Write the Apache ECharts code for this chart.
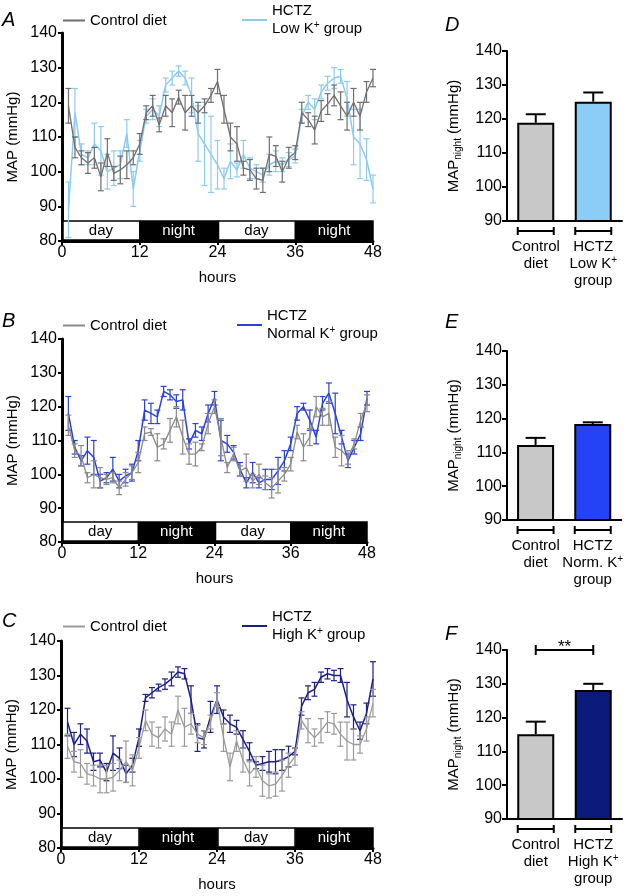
<!DOCTYPE html>
<html>
<head>
<meta charset="utf-8">
<script src="https://cdn.jsdelivr.net/npm/echarts@6/dist/echarts.min.js"></script>
<style>
  html, body { margin: 0; padding: 0; background: #fff; }
  #chart { width: 626px; height: 896px; }
</style>
</head>
<body>
<div id="chart"></div>
<script>
// hours of recording
const HOURS = [1,2,3,4,5,6,7,8,9,10,11,12,13,14,15,16,17,18,19,20,21,22,23,24,
  25,26,27,28,29,30,31,32,33,34,35,36,37,38,39,40,41,42,43,44,45,46,47,48]
const PERIODS = ['day', 'night', 'day', 'night']
const PERIOD_EDGES = [0, 12, 24, 36, 48]
const HOUR_TICKS = [0, 12, 24, 36, 48]

// panel A
const CTL_A = [119,107,104,102.5,104,98.5,105.5,99.5,100.5,102,104,108,
  117,119,113.5,119,117,121.5,117,119,117,119,122,126,
  118,110,108,101,100.5,98,97.5,105,104.5,100,104,105.5,
  117,115,112,117.5,119.5,122,119,116,120,116,123,127]
const SEM_CTL_A = [5,3,2,3,3,4,4,2,4,4,2,3, 2,3,2,3,4,2,5,3,3,2,2,3.5,
  4,4,5,2,3,3,3.5,5,3,3,3,2, 3,2,4,3,3,3,4,4,4,4,3,2.5]
const LOW_K = [89,117,105,104,108,106,100,101,102,111,95,106,
  116,118,116,125,127,129,127,122,111,108,105,102,
  98,103,100.5,105,101,100,99,102,103,102,103.5,104.5,
  116,120,118,123,125.5,127,127.5,121,110,108,103.5,95]
const SEM_LOW_K = [8,7,3,2,6,7,5,5,4,4,5,3, 2,3,3,2,2,1.5,2,5,8,12,11,7,
  3,5,2,4,3,2,2,3,3,2,2,2, 2,2,3,2,2,3,2,5,8,10,6,4]

// panel B
const CTL_B = [114.5,107,105.5,99,100,99,98.5,99,96,98.5,100.5,103.5,
  112,112.5,108,109,113,117,111,106,106,108,115,120,
  111,102,106,101,102,98,100,97.5,96,98,100,103,
  112.5,108,111,120,117,118,108,107,105,109,116,121]
const SEM_CTL_B = [3,2,3,1.5,4,3,1.5,1.5,2,2,2,3, 2,1,4,1.5,3.5,3,5,3,3.5,1,3,2,
  5.5,1.5,2,1.5,4,2,3,2,3,3.5,2,2, 2,4,2.5,3,2.5,3.5,3,4.5,2,1.5,2,2.5]
const NORM_K = [118,108,104,107,105,98,99,101.5,98,99.5,100.5,107,
  119,118,117,124.5,123.5,121.5,122,109,113,112,118,122.5,
  110,109,106.5,101.5,97.5,100.5,97.5,98.5,98.5,101,104,109,
  118,120,116,111,121,124,118,111,104,108,112,122.5]
const SEM_NORM_K = [5,2,1.5,4,5,2,1.5,3.5,2,2,2.5,3, 3,3,2,1.5,1.5,2,3,1.5,2,2,2.5,2,
  6,2.5,2,2,1.5,3,1.5,3,3,4,3,2, 2,1,3,2,2,3,6,2,2,2,2,2]

// panel C
const CTL_C = [109.5,105,104.5,101.5,101,100,100,100.5,102.5,105,102.5,109,
  117,113,112,114.5,113,120,115,116,113,112,116.5,123,
  112,103.5,111,105.5,101.5,103.5,99.5,98,98.5,101,104,106.5,
  117,114,112,114,116.5,116,113,111,110,110,114.5,122]
const SEM_CTL_C = [3.5,3,4,3,3,4,4,4,3,6,4.5,3, 3,3.5,3,3.5,3.5,4,5.5,3,2.5,2,2,2,
  4,4,3,3.5,3.5,3,4.5,3.5,3.5,4.5,3.5,2.5, 2.5,3.5,2.5,3.5,3,3,3.5,5.5,4.5,2.5,3.5,4]
const HIGH_K = [116.5,110,113,111,105,105.5,102,107.5,106,101.5,104,112,
  123.5,125,126.5,127.5,129,131,130.5,123,112,111.5,118,123,
  118,116,115,111.5,108,104,104.5,105,105,105.5,106.5,108,
  121,125,126,129.5,130.5,130,130,123,118,114,119,129]
const SEM_HIGH_K = [4,3.5,3,3.5,2.5,2,2.5,5,3,2.5,2,2.5, 1,1.5,1,1.5,2,1.5,1.5,4,4,2.5,4.5,4,
  2,2.5,2,2.5,2.5,1,2,3,3.5,3,3,1, 2.5,2,2,1.5,1.5,1.5,2,5,3.5,2.5,3,5]

// bar panels D, E, F (MAP night)
const CATS_D = ['Control\ndiet', 'HCTZ\nLow K+\ngroup']
const CATS_E = ['Control\ndiet', 'HCTZ\nNorm. K+\ngroup']
const CATS_F = ['Control\ndiet', 'HCTZ\nHigh K+\ngroup']
const BAR_D = [118.9, 125.1]
const SEM_BAR_D = [2.5, 2.7]
const BAR_E = [112.2, 118.4]
const SEM_BAR_E = [2.1, 0.5]
const BAR_F = [115.1, 128.2]
const SEM_BAR_F = [3.7, 1.8]
const SIG_F = [[0, 1, 140, '**']]

const FONT = "'Liberation Sans', Arial, Helvetica, sans-serif"
const chart = echarts.init(document.getElementById('chart'))

function errLines(a, b, c, color, w) {
  const st = { stroke: color, lineWidth: w }
  return [
    { type: 'line', shape: { x1: a[0], y1: a[1], x2: b[0], y2: b[1] }, style: st },
    { type: 'line', shape: { x1: a[0] - c, y1: a[1], x2: a[0] + c, y2: a[1] }, style: st },
    { type: 'line', shape: { x1: b[0] - c, y1: b[1], x2: b[0] + c, y2: b[1] }, style: st }
  ]
}

function errSeries(idx, means, sems, color, z) {
  return {
    type: 'custom', xAxisIndex: idx, yAxisIndex: idx, z: z, silent: true,
    data: HOURS.map((h, i) => [h, means[i] - sems[i], means[i] + sems[i]]),
    renderItem: (p, api) => {
      const a = api.coord([api.value(0), api.value(1)])
      const b = api.coord([api.value(0), api.value(2)])
      return { type: 'group', children: errLines(a, b, 3, color, 1.2) }
    }
  }
}

function lineSeries(idx, name, vals, color, w, z) {
  return {
    type: 'line', name: name, xAxisIndex: idx, yAxisIndex: idx, z: z,
    data: HOURS.map((h, i) => [h, vals[i]]),
    symbol: 'none', color: color,
    itemStyle: { color: color },
    lineStyle: { color: color, width: w },
    animation: false
  }
}

function bandSeries(idx) {
  return {
    type: 'custom', xAxisIndex: idx, yAxisIndex: idx, z: 1, silent: true,
    data: PERIODS.map((p, i) => [PERIOD_EDGES[i], PERIOD_EDGES[i + 1]]),
    renderItem: (p, api) => {
      const s = api.coord([api.value(0), 80])
      const e = api.coord([api.value(1), 80])
      const isDay = PERIODS[p.dataIndex] === 'day'
      const h = 19
      return {
        type: 'group',
        children: [
          { type: 'rect', shape: { x: s[0] + 1, y: s[1] - h - 1, width: e[0] - s[0] - 1, height: h },
            style: { fill: isDay ? '#fff' : '#000', stroke: '#000', lineWidth: 1.5 } },
          { type: 'text', x: (s[0] + e[0]) / 2, y: s[1] - h / 2 - 1,
            style: { text: PERIODS[p.dataIndex], fill: isDay ? '#000' : '#fff', font: '15px ' + FONT,
              align: 'center', verticalAlign: 'middle' } }
        ]
      }
    }
  }
}

const lineGrids = [
  { left: 62, top: 33, width: 311, height: 208 },
  { left: 62, top: 339, width: 305, height: 203 },
  { left: 61, top: 641, width: 312, height: 207 }
]
const barGrids = [
  { left: 507, top: 51, width: 115, height: 170 },
  { left: 507, top: 351, width: 115, height: 169 },
  { left: 507, top: 650, width: 115, height: 169 }
]

const linePanels = [
  { ctl: CTL_A, semCtl: SEM_CTL_A, hctz: LOW_K, semHctz: SEM_LOW_K, ctlColor: '#6f6f6f', hctzColor: '#8ecbef',
    hctzLabel: 'HCTZ\nLow K{sup|+} group', legendTop: 13, hctzLeft: 242, hctzTop: 2 },
  { ctl: CTL_B, semCtl: SEM_CTL_B, hctz: NORM_K, semHctz: SEM_NORM_K, ctlColor: '#8a8a8a', hctzColor: '#2a40e0',
    hctzLabel: 'HCTZ\nNormal K{sup|+} group', legendTop: 318, hctzLeft: 237, hctzTop: 307 },
  { ctl: CTL_C, semCtl: SEM_CTL_C, hctz: HIGH_K, semHctz: SEM_HIGH_K, ctlColor: '#9a9a9a', hctzColor: '#1c1f84',
    hctzLabel: 'HCTZ\nHigh K{sup|+} group', legendTop: 619, hctzLeft: 242, hctzTop: 608 }
]

const barPanels = [
  { cats: CATS_D, vals: BAR_D, sems: SEM_BAR_D, colors: ['#c8c8c8', '#8ccdf7'] },
  { cats: CATS_E, vals: BAR_E, sems: SEM_BAR_E, colors: ['#c8c8c8', '#2443f6'] },
  { cats: CATS_F, vals: BAR_F, sems: SEM_BAR_F, colors: ['#c8c8c8', '#0c1a7c'] }
]

const grid = [], xAxis = [], yAxis = [], series = [], legend = []
const sup = { sup: { fontSize: 10, verticalAlign: 'top', fontFamily: FONT, color: '#000' } }

linePanels.forEach((pn, i) => {
  grid.push(lineGrids[i])
  xAxis.push({
    gridIndex: i, type: 'value', min: 0, max: 48, interval: 12,
    axisLine: { onZero: false, lineStyle: { color: '#000', width: 3 } },
    axisTick: { show: true, length: 4, lineStyle: { color: '#000', width: 2 } },
    axisLabel: { fontSize: 16, color: '#000', fontFamily: FONT, margin: 4,
      customValues: HOUR_TICKS },
    splitLine: { show: false },
    name: 'hours', nameLocation: 'middle', nameGap: 29,
    nameTextStyle: { fontSize: 15, color: '#000', fontFamily: FONT }
  })
  yAxis.push({
    gridIndex: i, type: 'value', min: 80, max: 140, interval: 10,
    axisLine: { show: true, onZero: false, lineStyle: { color: '#000', width: 3 } },
    axisTick: { show: true, length: 4, lineStyle: { color: '#000', width: 2 } },
    axisLabel: { fontSize: 16, color: '#000', fontFamily: FONT, margin: 5 },
    splitLine: { show: false },
    name: 'MAP (mmHg)', nameLocation: 'middle', nameGap: 42,
    nameTextStyle: { fontSize: 15, color: '#000', fontFamily: FONT }
  })
  const cName = 'Control diet ' + i, hName = 'HCTZ ' + i
  series.push(bandSeries(i))
  series.push(errSeries(i, pn.hctz, pn.semHctz, pn.hctzColor, 3))
  series.push(lineSeries(i, hName, pn.hctz, pn.hctzColor, 1.5, 4))
  series.push(errSeries(i, pn.ctl, pn.semCtl, pn.ctlColor, 5))
  series.push(lineSeries(i, cName, pn.ctl, pn.ctlColor, 1.3, 6))
  legend.push({
    data: [cName], left: 63, top: pn.legendTop, padding: 0, icon: 'rect', itemWidth: 22, itemHeight: 2,
    selectedMode: false, formatter: () => 'Control diet',
    textStyle: { fontSize: 15, color: '#000', fontFamily: FONT }
  })
  legend.push({
    data: [hName], left: pn.hctzLeft, top: pn.hctzTop, padding: 0, icon: 'rect', itemWidth: 25, itemHeight: 2,
    selectedMode: false, formatter: () => pn.hctzLabel,
    textStyle: { fontSize: 15, color: '#000', fontFamily: FONT, lineHeight: 18, rich: sup }
  })
})

barPanels.forEach((pn, j) => {
  const i = j + 3
  grid.push(barGrids[j])
  xAxis.push({
    gridIndex: i, type: 'category', data: pn.cats,
    axisLine: { lineStyle: { color: '#000', width: 2 } },
    axisTick: { show: false },
    axisLabel: { interval: 0, fontSize: 15, lineHeight: 17, color: '#000', fontFamily: FONT, margin: 17,
      formatter: v => v.replace('K+', 'K{sup|+}'), rich: sup }
  })
  yAxis.push({
    gridIndex: i, type: 'value', min: 90, max: 140, interval: 10,
    axisLine: { show: true, lineStyle: { color: '#000', width: 2 } },
    axisTick: { show: true, length: 5, lineStyle: { color: '#000', width: 2 } },
    axisLabel: { fontSize: 16, color: '#000', fontFamily: FONT, margin: 5 },
    splitLine: { show: false },
    name: 'MAP{sub|night} (mmHg)', nameLocation: 'middle', nameGap: 44,
    nameTextStyle: { fontSize: 15, color: '#000', fontFamily: FONT, lineHeight: 18,
      rich: { sub: { fontSize: 10, verticalAlign: 'bottom', fontFamily: FONT, color: '#000' } } }
  })
  series.push({
    type: 'bar', xAxisIndex: i, yAxisIndex: i, barWidth: 37, z: 2,
    data: pn.vals.map((v, k) => ({ value: v, itemStyle: { color: pn.colors[k] } })),
    itemStyle: { borderColor: '#000', borderWidth: 2 },
    animation: false
  })
  // upper error bars
  series.push({
    type: 'custom', xAxisIndex: i, yAxisIndex: i, z: 1, silent: true,
    data: pn.vals.map((v, k) => [k, v, v + pn.sems[k]]),
    renderItem: (p, api) => {
      const a = api.coord([api.value(0), api.value(1)])
      const b = api.coord([api.value(0), api.value(2)])
      const st = { stroke: '#000', lineWidth: 2 }
      return { type: 'group', children: [
        { type: 'line', shape: { x1: a[0], y1: a[1], x2: b[0], y2: b[1] }, style: st },
        { type: 'line', shape: { x1: b[0] - 10, y1: b[1], x2: b[0] + 10, y2: b[1] }, style: st }
      ] }
    }
  })
  // group brackets under the axis
  series.push({
    type: 'custom', xAxisIndex: i, yAxisIndex: i, z: 3, silent: true, clip: false,
    data: pn.vals.map((v, k) => [k, 90]),
    renderItem: (p, api) => {
      const c = api.coord([api.value(0), api.value(1)])
      const y = c[1] + 10, st = { stroke: '#000', lineWidth: 2 }
      return { type: 'group', children: [
        { type: 'line', shape: { x1: c[0] - 18, y1: y, x2: c[0] + 18, y2: y }, style: st },
        { type: 'line', shape: { x1: c[0] - 18, y1: y - 4, x2: c[0] - 18, y2: y + 4 }, style: st },
        { type: 'line', shape: { x1: c[0] + 18, y1: y - 4, x2: c[0] + 18, y2: y + 4 }, style: st }
      ] }
    }
  })
})

// significance bracket in F
series.push({
  type: 'custom', xAxisIndex: 5, yAxisIndex: 5, z: 3, silent: true, clip: false,
  data: SIG_F,
  renderItem: (p, api) => {
    const a = api.coord([api.value(0), api.value(2)])
    const b = api.coord([api.value(1), api.value(2)])
    const st = { stroke: '#000', lineWidth: 2 }
    return { type: 'group', children: [
      { type: 'line', shape: { x1: a[0], y1: a[1], x2: b[0], y2: b[1] }, style: st },
      { type: 'line', shape: { x1: a[0], y1: a[1] - 5, x2: a[0], y2: a[1] + 5 }, style: st },
      { type: 'line', shape: { x1: b[0], y1: b[1] - 5, x2: b[0], y2: b[1] + 5 }, style: st },
      { type: 'text', x: (a[0] + b[0]) / 2, y: a[1] + 6,
        style: { text: SIG_F[p.dataIndex][3], font: '17px ' + FONT, fill: '#000',
          align: 'center', verticalAlign: 'bottom' } }
    ] }
  }
})

const letters = [['A', 2, 20], ['B', 2, 321], ['C', 2, 621], ['D', 445, 25], ['E', 445, 322], ['F', 445, 634]]

chart.setOption({
  backgroundColor: '#fff',
  animation: false,
  textStyle: { fontFamily: FONT },
  grid: grid,
  xAxis: xAxis,
  yAxis: yAxis,
  legend: legend,
  series: series,
  graphic: letters.map(l => ({
    type: 'text', left: l[1], top: l[2] - 10,
    style: { text: l[0], font: 'italic 20px ' + FONT, fill: '#000' }
  }))
})
</script>
</body>
</html>
